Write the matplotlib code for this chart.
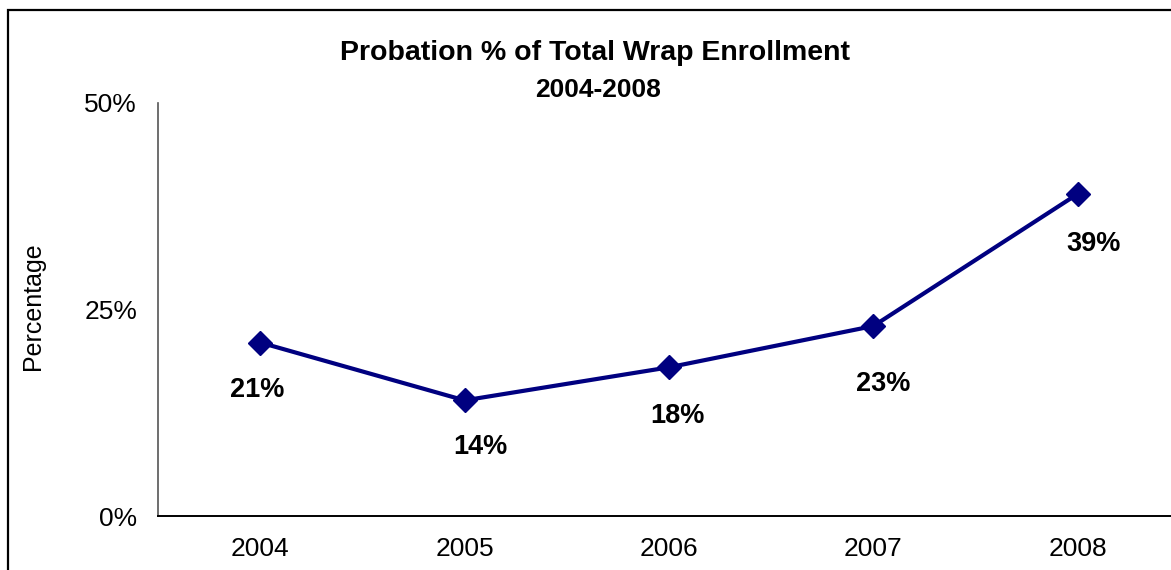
import matplotlib.pyplot as plt
from matplotlib.patches import Rectangle
from matplotlib.ticker import FuncFormatter

plt.rcParams['font.family'] = ['Liberation Sans', 'DejaVu Sans']

years = ["2004", "2005", "2006", "2007", "2008"]
probation_pct = [0.21, 0.14, 0.18, 0.23, 0.39]
pct_labels = ["21%", "14%", "18%", "23%", "39%"]
y_ticks = [0.0, 0.25, 0.50]

# label placement below each marker (points)
label_offsets = [(-2, -34), (11, -33.5), (6, -35), (7, -42), (11, -36)]

W, H = 1171, 570
fig = plt.figure(figsize=(W / 100, H / 100), dpi=100)

# chart area border (cropped on right and bottom in the original)
fig.add_artist(Rectangle((8 / W, -0.1), 1.2, 1.1 - 10 / H, transform=fig.transFigure,
                         fill=False, lw=1.6, ec="black"))

ax = fig.add_axes([158 / W, (H - 516) / H, 1022 / W, 413 / H])

x = list(range(len(years)))
ax.plot(x, probation_pct, color="#000080", lw=3, marker="D", markersize=12.5,
        markerfacecolor="#000080", markeredgecolor="#000080")

for xi, yi, lab, off in zip(x, probation_pct, pct_labels, label_offsets):
    ax.annotate(lab, (xi, yi), xytext=off, textcoords="offset points",
                ha="center", va="center", fontsize=19.5, fontweight="bold")

ax.set_xlim(-0.5, 4.5)
ax.set_ylim(0, 0.5)
ax.set_xticks(x)
ax.set_xticklabels(years)
ax.set_yticks(y_ticks)
ax.yaxis.set_major_formatter(FuncFormatter(lambda v, p: f"{v:.0%}"))
ax.tick_params(axis="both", length=0, labelsize=19)
ax.tick_params(axis="y", pad=15)
ax.tick_params(axis="x", pad=15)

for side in ["top", "right"]:
    ax.spines[side].set_visible(False)
ax.spines["left"].set_color("#555555")
ax.spines["bottom"].set_color("black")
ax.spines["left"].set_linewidth(1.2)
ax.spines["bottom"].set_linewidth(1.4)

fig.text(33 / W, 1 - 306 / H, "Percentage", rotation=90, ha="center", va="center", fontsize=18)

fig.text(595 / W, 1 - 53 / H, "Probation % of Total Wrap Enrollment", ha="center", va="center",
         fontsize=20.5, fontweight="bold")
fig.text(598 / W, 1 - 90 / H, "2004-2008", ha="center", va="center",
         fontsize=19, fontweight="bold")

fig.savefig("out.png", dpi=100)
